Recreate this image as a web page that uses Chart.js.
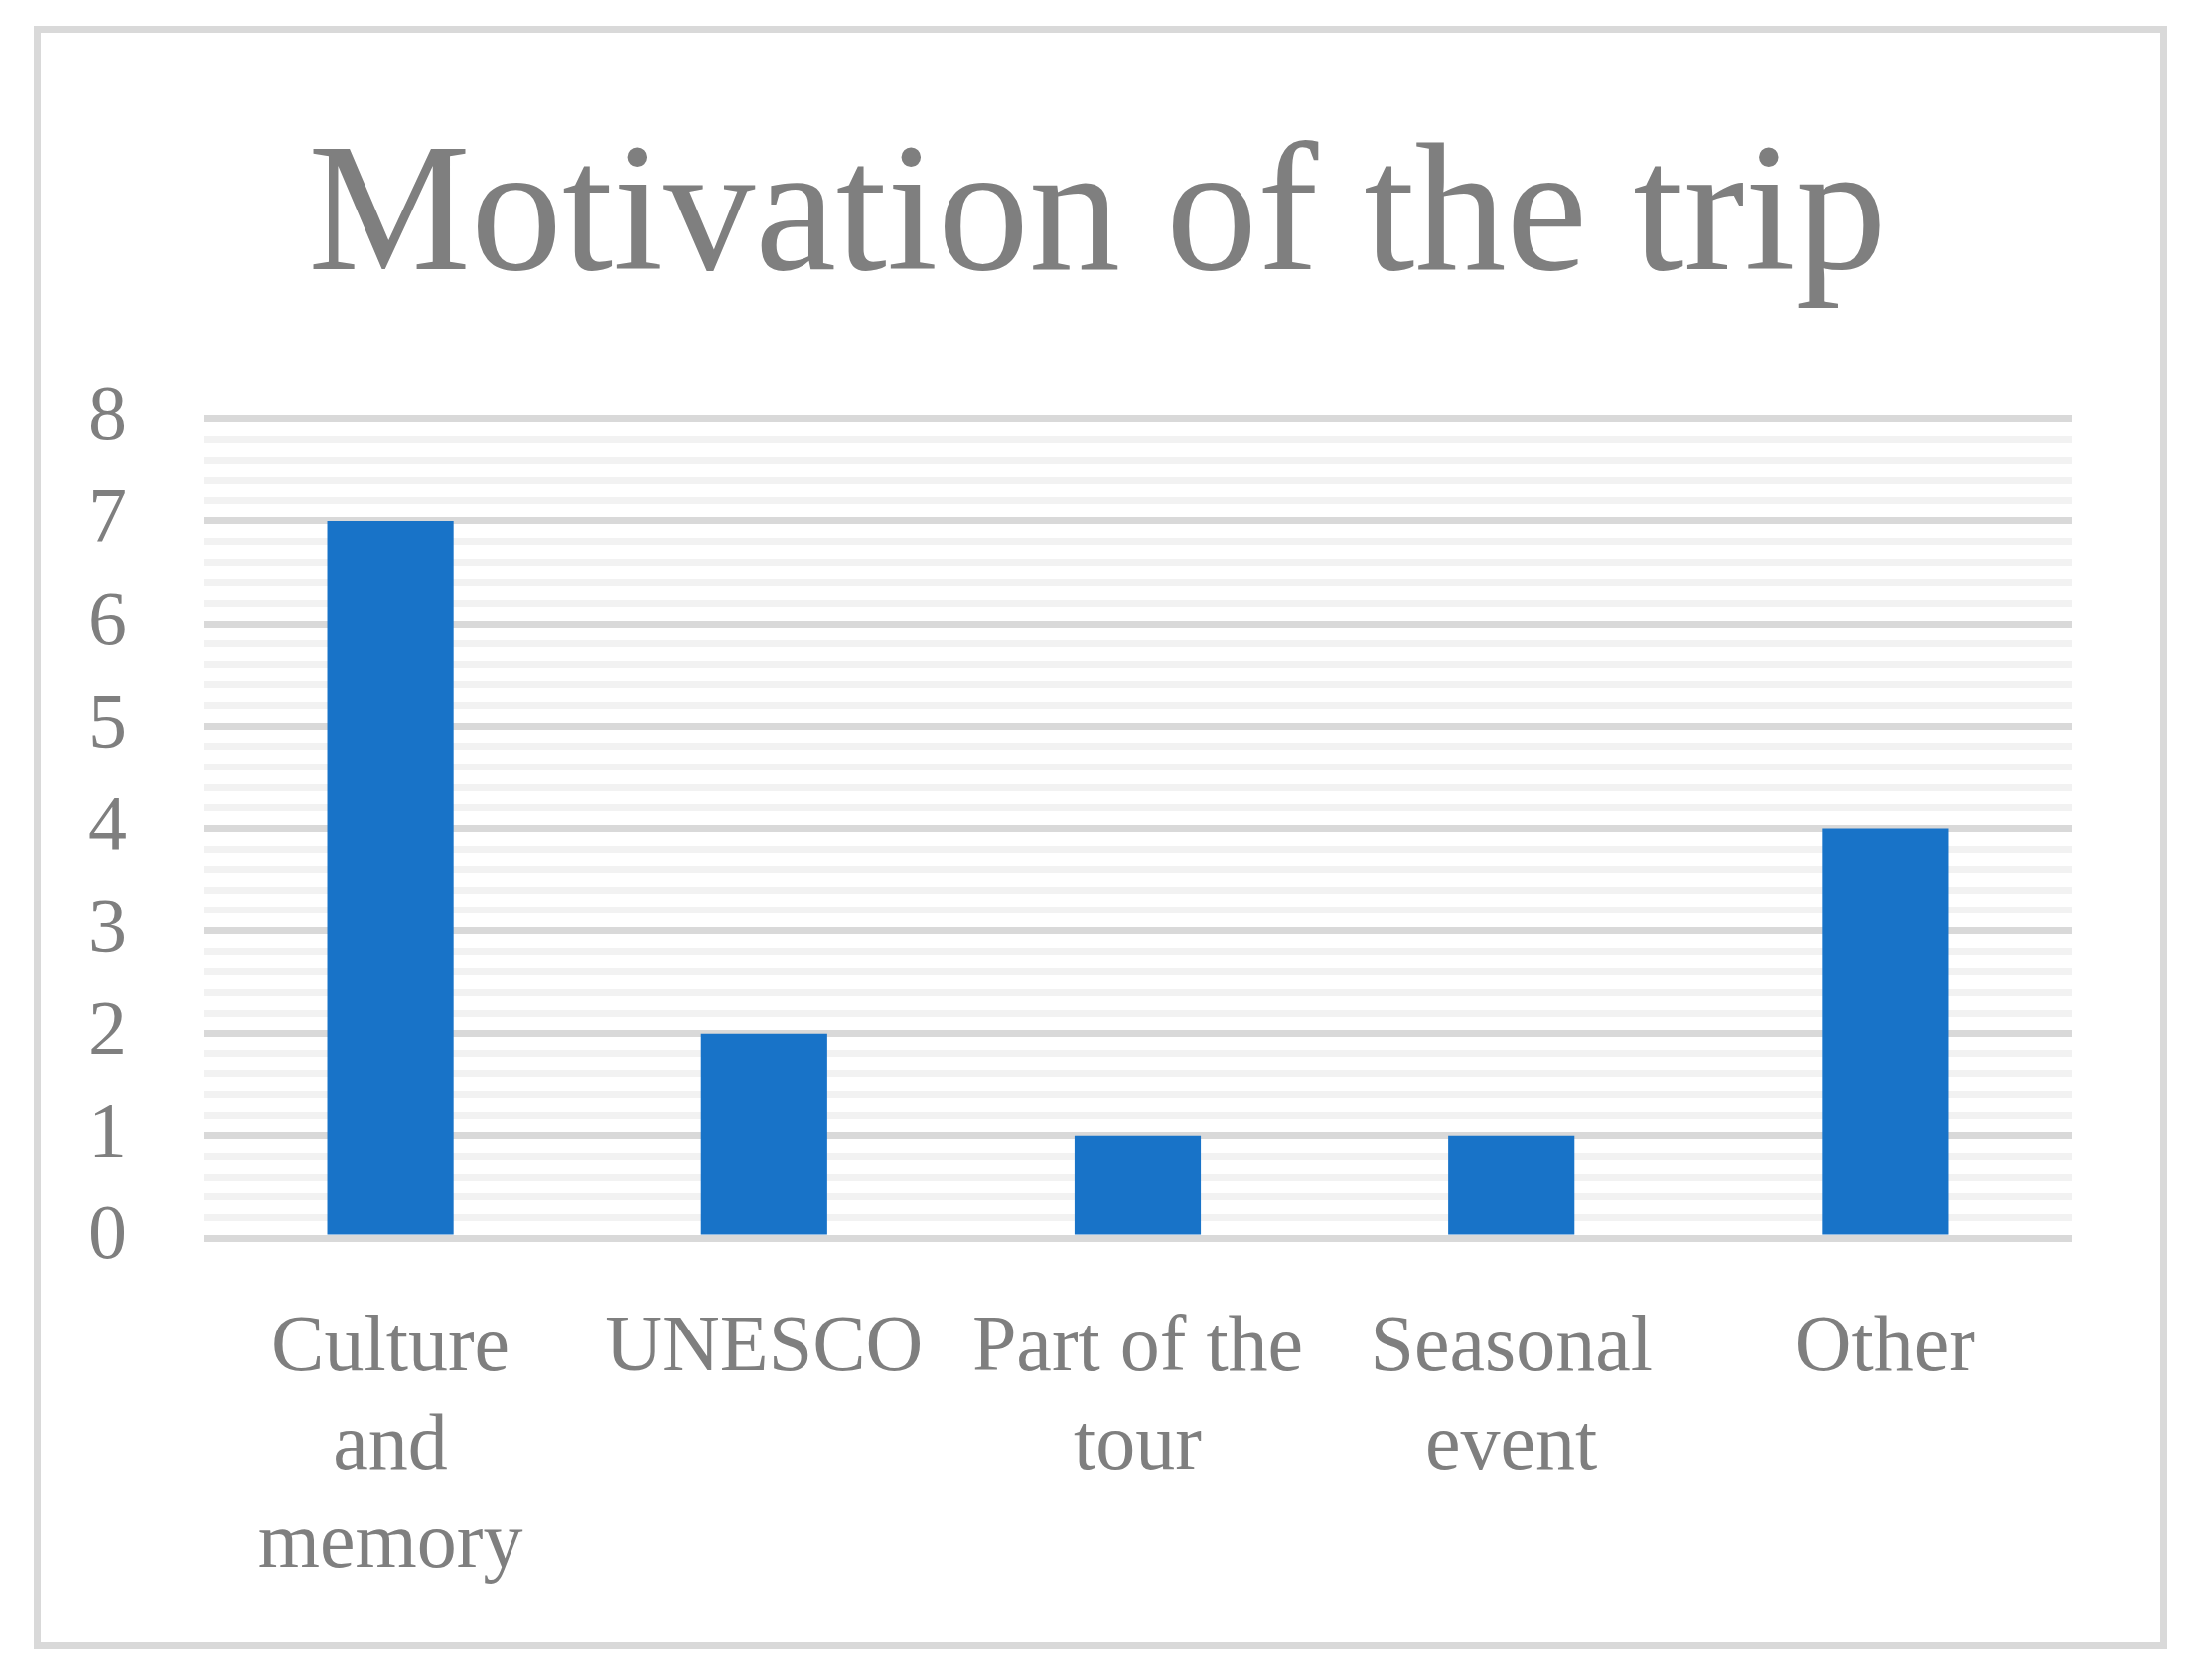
<!DOCTYPE html>
<html lang="en">
<head>
    <meta charset="UTF-8">
    <title>Motivation of the trip</title>
    <style>
        body { margin: 0; background: #ffffff; }
        .page { position: relative; width: 2205px; height: 1692px; }
        .moldura {
            position: absolute; left: 34px; top: 26px;
            width: 2148px; height: 1635px;
            border: 7px solid #d9d9d9; box-sizing: border-box;
        }
        .boxGrafico { position: absolute; left: 0; top: 0; width: 2205px; height: 1692px; }
    </style>
</head>
<body>
    <div class="page">
        <div class="moldura"></div>
        <div class="boxGrafico">
            <canvas id="myChart"></canvas>
        </div>
    </div>

<script src="https://cdn.jsdelivr.net/npm/chart.js"></script>
<script>
// categorias (quebradas em linhas como no original) e valores
const categorias = [['Culture', 'and', 'memory'], ['UNESCO'], ['Part of the', 'tour'], ['Seasonal', 'event'], ['Other']];
const valores = [7, 2, 1, 1, 4];

// eixo y: 0 a 8, rótulos inteiros, linhas menores a cada 0.2
const yMin = 0;
const yMax = 8;
const yPassoMenor = 0.2;

const cinzaTexto = '#7f7f7f';
const fonte = 'Liberation Serif';

function inteiro(v) {
  return Math.abs(v - Math.round(v)) < 1e-6;
}

const ctx = document.getElementById('myChart');

new Chart(ctx, {
  type: 'bar',
  data: {
    labels: categorias,
    datasets: [{
      data: valores,
      backgroundColor: '#1873c8',
      borderWidth: 0,
      categoryPercentage: 1,
      barPercentage: 0.338
    }]
  },
  options: {
    responsive: true,
    maintainAspectRatio: false,
    animation: false,
    layout: {
      // left/right quase iguais para o título ficar centrado na moldura
      padding: { top: 0, left: 84, right: 79, bottom: 0 }
    },
    scales: {
      x: {
        grid: { display: false },
        border: { display: false },
        ticks: {
          color: cinzaTexto,
          font: { family: fonte, size: 80, lineHeight: 1.24 },
          padding: 54,
          maxRotation: 0,
          autoSkip: false
        },
        afterFit: function(scale) { scale.height = 445; }
      },
      y: {
        min: yMin,
        max: yMax,
        border: { display: false },
        grid: {
          drawTicks: false,
          lineWidth: 7,
          color: function(c) {
            return c.tick && inteiro(c.tick.value) ? '#d9d9d9' : '#f2f2f2';
          }
        },
        ticks: {
          stepSize: yPassoMenor,
          autoSkip: false,
          color: cinzaTexto,
          font: { family: fonte, size: 78 },
          padding: 77,
          callback: function(v) { return inteiro(v) ? Math.round(v) : ''; }
        },
        afterFit: function(scale) { scale.width = 121; }
      },
      // eixo vazio à direita, só para reservar espaço
      yDireita: {
        position: 'right',
        grid: { display: false },
        border: { display: false },
        ticks: { display: false },
        afterFit: function(scale) { scale.width = 40; }
      }
    },
    plugins: {
      legend: { display: false },
      tooltip: { enabled: false },
      title: {
        display: true,
        text: 'Motivation of the trip',
        color: cinzaTexto,
        font: { family: fonte, size: 184, weight: 'normal', lineHeight: 1.2 },
        padding: { top: 112, bottom: 89 }
      }
    }
  }
});
</script>
</body>
</html>
